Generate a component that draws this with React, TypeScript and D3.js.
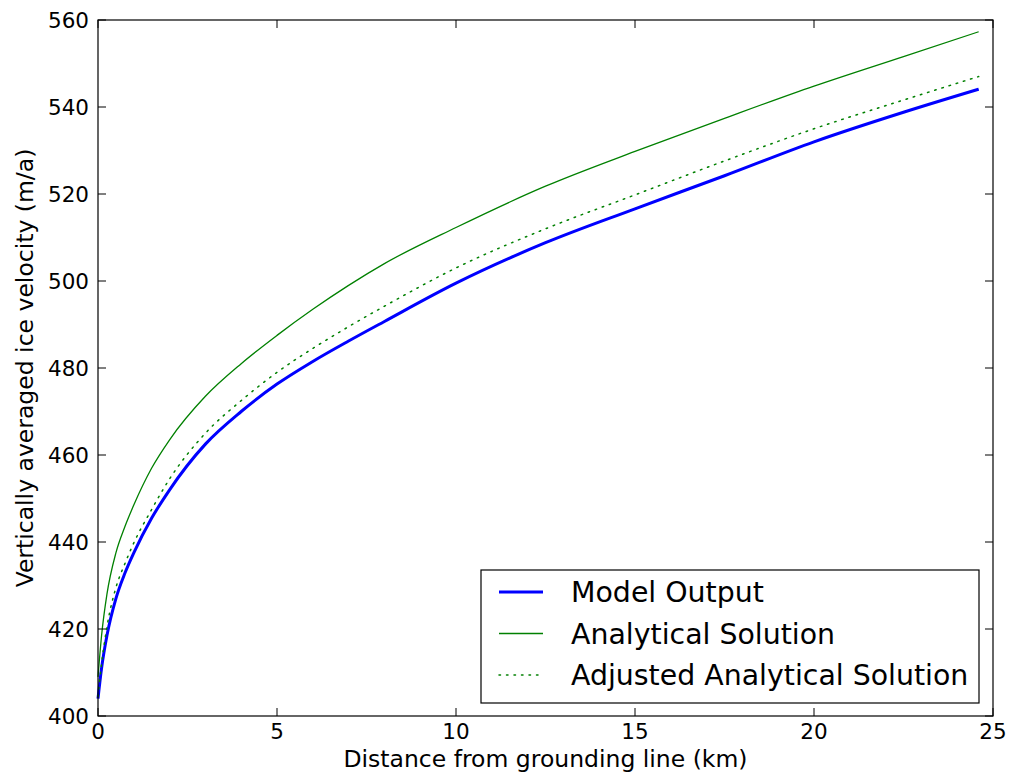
import React, { useEffect, useRef } from 'react';
import * as d3 from 'd3';

// distance from grounding line (km)
const distance = [0, 0.1, 0.25, 0.5, 0.75, 1, 1.5, 2, 3, 4, 5, 6, 7, 8, 10, 12.5, 15, 17.5, 20, 22.5, 24.6];

// vertically averaged ice velocity (m/a)
const modelOutput = [404, 411, 418.5, 427, 432.8, 437.5, 445.5, 452, 462.5, 470, 476.3, 481.5, 486.2, 490.7, 499.5, 508.8, 516.6, 524.2, 532, 538.8, 544.1];
const analytical = [409, 418.5, 428, 437.5, 443.5, 448.5, 457, 463.5, 473.5, 481, 487.5, 493.5, 499, 504, 512.3, 521.8, 529.8, 537.4, 544.8, 551.6, 557.3];
const adjusted = [404.5, 412, 420.5, 429.5, 435, 439.8, 447.5, 454.5, 465, 472.5, 479, 484.5, 489.5, 494.2, 503, 512, 519.8, 527.6, 535, 541.6, 547];

const xTicks = [0, 5, 10, 15, 20, 25];
const yTicks = [400, 420, 440, 460, 480, 500, 520, 540, 560];

const series = [
  { name: 'Model Output', values: modelOutput, color: '#0000ff', width: 3, dash: null },
  { name: 'Analytical Solution', values: analytical, color: '#008000', width: 1.3, dash: null },
  { name: 'Adjusted Analytical Solution', values: adjusted, color: '#008000', width: 1.5, dash: '1.5,6' },
];

export default function App() {
  const svgRef = useRef<SVGSVGElement>(null);

  useEffect(() => {
    const width = 1010;
    const height = 774;
    const margin = { top: 20, right: 17, bottom: 58, left: 98 };
    const font = 'DejaVu Sans, sans-serif';

    const svg = d3.select(svgRef.current);
    svg.selectAll('*').remove();
    svg.attr('width', width).attr('height', height);

    svg.append('rect').attr('width', width).attr('height', height).attr('fill', '#fff');

    const x = d3.scaleLinear().domain([0, 25]).range([margin.left, width - margin.right]);
    const y = d3.scaleLinear().domain([400, 560]).range([height - margin.bottom, margin.top]);

    const plot = svg.append('g');

    // curves
    series.forEach(s => {
      const line = d3.line<number>()
        .x((d, i) => x(distance[i]))
        .y(d => y(d))
        .curve(d3.curveMonotoneX);
      const path = plot.append('path')
        .datum(s.values)
        .attr('d', line)
        .attr('fill', 'none')
        .attr('stroke', s.color)
        .attr('stroke-width', s.width)
        .attr('stroke-linecap', s.dash ? 'round' : 'butt');
      if (s.dash) path.attr('stroke-dasharray', s.dash);
    });

    // inward ticks on all four sides
    const tickLen = 8;
    const x0 = x.range()[0], x1 = x.range()[1];
    const y0 = y.range()[0], y1 = y.range()[1];

    const ticks = svg.append('g').attr('stroke', '#000').attr('stroke-width', 1);
    xTicks.forEach(t => {
      ticks.append('line').attr('x1', x(t)).attr('x2', x(t)).attr('y1', y0).attr('y2', y0 - tickLen);
      ticks.append('line').attr('x1', x(t)).attr('x2', x(t)).attr('y1', y1).attr('y2', y1 + tickLen);
    });
    yTicks.forEach(t => {
      ticks.append('line').attr('x1', x0).attr('x2', x0 + tickLen).attr('y1', y(t)).attr('y2', y(t));
      ticks.append('line').attr('x1', x1).attr('x2', x1 - tickLen).attr('y1', y(t)).attr('y2', y(t));
    });

    // frame
    svg.append('rect')
      .attr('x', x0).attr('y', y1)
      .attr('width', x1 - x0).attr('height', y0 - y1)
      .attr('fill', 'none').attr('stroke', '#000').attr('stroke-width', 1.2);

    // tick labels
    svg.append('g').selectAll('text')
      .data(xTicks).enter().append('text')
      .attr('x', d => x(d)).attr('y', 739)
      .attr('text-anchor', 'middle')
      .style('font-family', font).style('font-size', '21.5px').style('fill', '#000')
      .text(d => d);

    svg.append('g').selectAll('text')
      .data(yTicks).enter().append('text')
      .attr('x', x0 - 9).attr('y', d => y(d)).attr('dy', '0.36em')
      .attr('text-anchor', 'end')
      .style('font-family', font).style('font-size', '21.5px').style('fill', '#000')
      .text(d => d);

    // axis labels
    svg.append('text')
      .attr('x', (x0 + x1) / 2).attr('y', 767)
      .attr('text-anchor', 'middle')
      .style('font-family', font).style('font-size', '23.5px')
      .text('Distance from grounding line (km)');

    svg.append('text')
      .attr('transform', `translate(33,${(y0 + y1) / 2}) rotate(-90)`)
      .attr('text-anchor', 'middle')
      .style('font-family', font).style('font-size', '23.5px')
      .text('Vertically averaged ice velocity (m/a)');

    // legend
    const legend = svg.append('g').attr('transform', 'translate(481,570)');
    legend.append('rect')
      .attr('width', 498).attr('height', 133)
      .attr('fill', '#fff').attr('stroke', '#000').attr('stroke-width', 1.2);
    series.forEach((s, i) => {
      const ly = 22 + i * 41.5;
      const l = legend.append('line')
        .attr('x1', 18).attr('x2', 62).attr('y1', ly).attr('y2', ly)
        .attr('stroke', s.color).attr('stroke-width', s.width)
        .attr('stroke-linecap', s.dash ? 'round' : 'butt');
      if (s.dash) l.attr('stroke-dasharray', s.dash);
      legend.append('text')
        .attr('x', 90).attr('y', ly).attr('dy', '0.36em')
        .style('font-family', font).style('font-size', '28.4px')
        .text(s.name);
    });
  }, []);

  return (
    <svg ref={svgRef} style={{ position: 'absolute', left: 0, top: 0 }} />
  );
}
